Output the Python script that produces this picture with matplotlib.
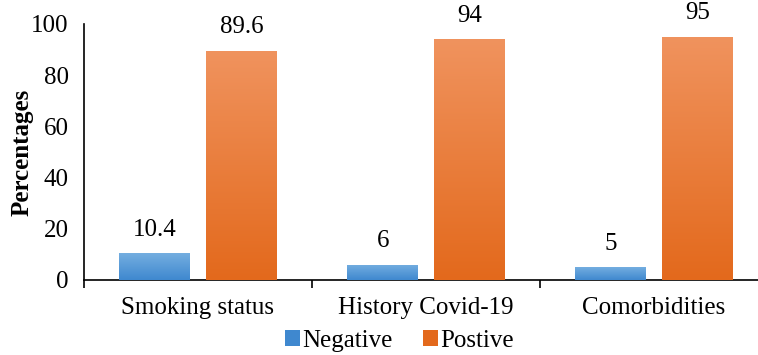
import numpy as np
import matplotlib
matplotlib.use("Agg")
import matplotlib.pyplot as plt
from matplotlib.colors import LinearSegmentedColormap
from matplotlib.patches import Patch

categories = ["Smoking status", "History Covid-19", "Comorbidities"]
negative = [10.4, 6, 5]
positive = [89.6, 94, 95]
neg_labels = ["10.4", "6", "5"]
pos_labels = ["89.6", "94", "95"]

BLUE_TOP, BLUE_BOT = "#74aee0", "#3f88cf"
ORNG_TOP, ORNG_BOT = "#f0935e", "#e3691c"

plt.rcParams.update({"font.family": "Liberation Serif", "font.size": 18})

fig = plt.figure(figsize=(7.58, 3.55), dpi=100)
ax = fig.add_axes([84 / 758, 75 / 355, 684 / 758, 256 / 355])

x = np.arange(len(categories))
w, off = 0.31, 0.19


def gradient_bars(xs, vals, top, bot):
    bars = ax.bar(xs, vals, width=w, color=bot, edgecolor="none", zorder=2)
    cmap = LinearSegmentedColormap.from_list("g", [bot, top])
    grad = np.linspace(0, 1, 256).reshape(-1, 1)
    for b in bars:
        im = ax.imshow(grad, cmap=cmap, origin="lower", aspect="auto",
                       extent=(b.get_x(), b.get_x() + b.get_width(), 0, b.get_height()),
                       zorder=3)
        im.set_clip_path(b)
    return bars


nb = gradient_bars(x - off, negative, BLUE_TOP, BLUE_BOT)
pb = gradient_bars(x + off, positive, ORNG_TOP, ORNG_BOT)

for bars, labs in [(nb, neg_labels), (pb, pos_labels)]:
    for b, t in zip(bars, labs):
        ax.annotate(t, (b.get_x() + b.get_width() / 2, b.get_height()),
                    xytext=(0, 9), textcoords="offset points", ha="center", va="bottom",
                    fontsize=18)

ax.set_xlim(-0.5, 2.5)
ax.set_ylim(0, 100)
ax.set_yticks(range(0, 101, 20))
ax.tick_params(axis="y", length=0, pad=11, labelsize=18)
ax.set_xticks(x)
ax.set_xticklabels(categories)
ax.tick_params(axis="x", which="major", length=0, pad=12, labelsize=18)
ax.set_xticks([-0.5, 0.5, 1.5, 2.5], minor=True)
ax.tick_params(axis="x", which="minor", length=6, width=1.2, direction="out")
for s in ["top", "right"]:
    ax.spines[s].set_visible(False)
for s in ["left", "bottom"]:
    ax.spines[s].set_linewidth(1.2)
ax.set_ylabel("Percentages", fontweight="bold", fontsize=18)
ax.yaxis.set_label_coords(-0.074, 0.5)

handles = [Patch(facecolor=BLUE_BOT, label="Negative"), Patch(facecolor=ORNG_BOT, label="Postive")]
fig.legend(handles=handles, loc="lower center", bbox_to_anchor=(0.527, -0.055), ncol=2,
           frameon=False, fontsize=18, handlelength=0.6, handleheight=0.6,
           handletextpad=0.1, columnspacing=1.2)

fig.savefig("out.png", dpi=100, facecolor="white")
